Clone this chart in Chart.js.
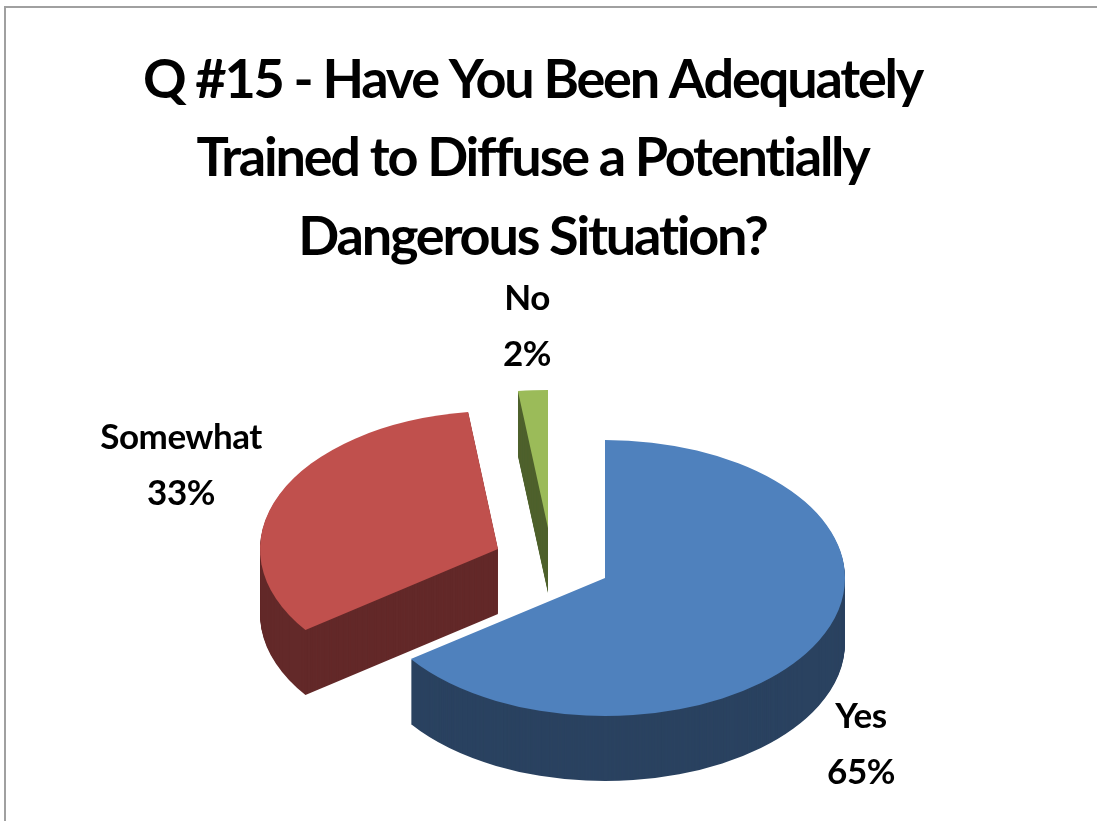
<!DOCTYPE html>
<html><head><meta charset="utf-8">
<style>html,body{margin:0;padding:0;background:#fff;overflow:hidden}
#w{position:absolute;left:0;top:0;width:1097px;height:821px}</style>
<script src="https://cdn.jsdelivr.net/npm/chart.js@4"></script></head>
<body><div id="w"><canvas id="c" width="1097" height="821"></canvas></div>
<script>
const categories = ['Yes','Somewhat','No'];
const values = [65,33,2];
const titleLines = ['Q #15 - Have You Been Adequately','Trained to Diffuse a Potentially','Dangerous Situation?'];
const topColors = ['#4F81BD','#C0504D','#9BBB59'];
const sideColors = ['#2A4260','#632929','#4F622D'];
const sliceCentres = [[605,578],[498,549],[548,528]];
const sliceRadiusX = [240,238,240];
const labelPos = [[861,717],[181,438],[527,299]];
const RY=138, DEPTH=65, LINE=56;
const FONT='Lato, Carlito, sans-serif';

const pie3d = {
  id:'pie3d',
  beforeDraw(chart){ chart.ctx.letterSpacing='-2.2px'; },
  beforeDatasetsDraw(chart){
    const ctx=chart.ctx, arcs=chart.getDatasetMeta(0).data;
    [2,1,0].forEach(i=>{
      const el=arcs[i], c=sliceCentres[i], s=el.outerRadius;
      const paint=(dy,color)=>{
        const saved=el.options;
        el.options=Object.assign({},saved,{backgroundColor:color,borderWidth:0});
        ctx.save();
        ctx.translate(c[0],c[1]+dy);
        ctx.scale(sliceRadiusX[i]/s,RY/s);
        ctx.translate(-el.x,-el.y);
        el.draw(ctx);
        ctx.restore();
        el.options=saved;
      };
      for(let d=DEPTH;d>0;d--) paint(d,sideColors[i]);
      paint(0,topColors[i]);
    });
    return false;
  },
  afterDraw(chart){
    const ctx=chart.ctx;
    ctx.save();
    ctx.strokeStyle='#a0a0a0';ctx.lineWidth=2;
    ctx.beginPath();ctx.moveTo(5,821);ctx.lineTo(5,7);ctx.lineTo(1097,7);ctx.stroke();
    ctx.fillStyle='#000';ctx.textAlign='center';ctx.textBaseline='middle';
    ctx.letterSpacing='-0.5px';
    ctx.font='bold 35px '+FONT;
    categories.forEach((n,i)=>{
      ctx.fillText(n,labelPos[i][0],labelPos[i][1]);
      ctx.fillText(values[i]+'%',labelPos[i][0],labelPos[i][1]+LINE);
    });
    ctx.restore();
  }
};

new Chart(document.getElementById('c'),{
  type:'pie',
  data:{labels:categories,datasets:[{data:values,backgroundColor:topColors,borderWidth:0}]},
  options:{
    responsive:false,animation:false,
    layout:{padding:{top:41,right:32}},
    plugins:{
      legend:{display:false},tooltip:{enabled:false},
      title:{display:true,text:titleLines,fullSize:false,color:'#000',
        font:{family:FONT,size:54,weight:'bold',lineHeight:1.454},padding:0}
    }
  },
  plugins:[pie3d]
});
</script></body></html>
